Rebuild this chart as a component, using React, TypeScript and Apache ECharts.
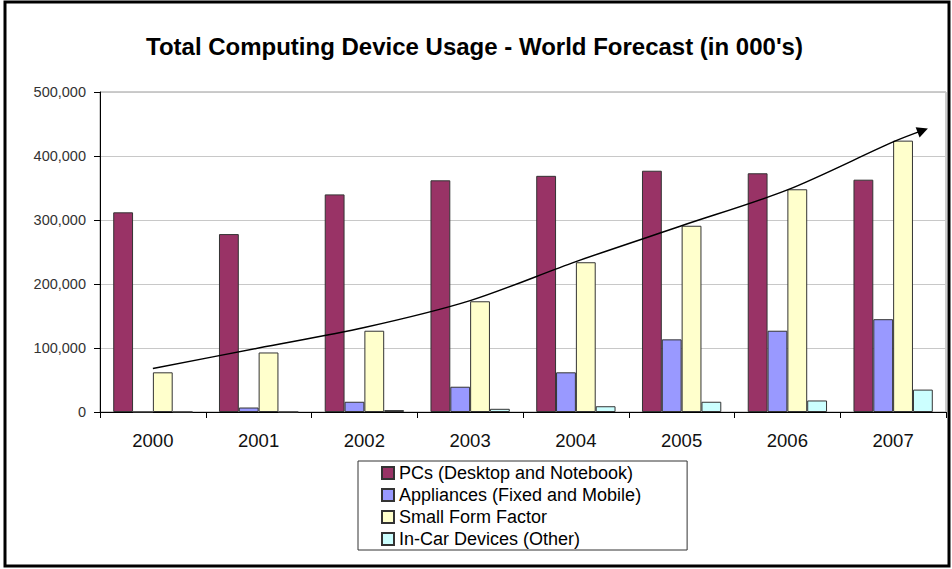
import React, { useEffect, useRef } from "react";
import * as echarts from "echarts";

const categories = ["2000", "2001", "2002", "2003", "2004", "2005", "2006", "2007"];
const pcs = [312000, 278000, 340000, 362000, 369000, 377000, 373000, 363000];
const appliances = [0, 7000, 16000, 39500, 62000, 113500, 127000, 145000];
const smallFormFactor = [62000, 93000, 127000, 173000, 234000, 291000, 348000, 424000];
const inCar = [0, 0, 3000, 5000, 9000, 16000, 18000, 35000];
// trend arrow: [category position, value]
const trendX = [0.5, 1.5, 2.5, 3.5, 4.5, 5.5, 6.5, 7.5, 7.78];
const trendY = [68000, 100000, 132000, 174000, 235000, 291000, 347000, 422000, 440000];

const seriesNames = [
  "PCs (Desktop and Notebook)",
  "Appliances (Fixed and Mobile)",
  "Small Form Factor",
  "In-Car Devices (Other)",
];
const colors = ["#993366", "#9999FF", "#FFFFCC", "#CCFFFF"];

export default function App() {
  const ref = useRef<HTMLDivElement>(null);
  useEffect(() => {
    if (!ref.current) return;
    const chart = echarts.init(ref.current, null, { renderer: "svg" });
    const font = "'Liberation Sans', Arial, sans-serif";
    const values = [pcs, appliances, smallFormFactor, inCar];
    const trendData: any[] = trendX.map((x, i) => {
      if (i === trendX.length - 1) {
        return {
          value: [x, trendY[i]],
          symbol: "triangle",
          symbolSize: [11, 11],
          symbolRotate: -69,
          itemStyle: { color: "#000" },
        };
      }
      return { value: [x, trendY[i]], symbol: "none" };
    });
    chart.setOption({
      animation: false,
      backgroundColor: "#fff",
      textStyle: { fontFamily: font },
      title: {
        text: "Total Computing Device Usage - World Forecast (in 000's)",
        left: 141,
        top: 29,
        textStyle: { fontSize: 24, fontWeight: "bold", color: "#000", fontFamily: font },
      },
      graphic: [
        {
          type: "rect",
          shape: { x: 5, y: 2, width: 944, height: 564 },
          style: { fill: "none", stroke: "#000", lineWidth: 3 },
          silent: true,
        },
      ],
      legend: {
        data: seriesNames,
        orient: "vertical",
        left: 358,
        top: 461,
        itemWidth: 12,
        itemHeight: 12,
        itemGap: 4,
        icon: "rect",
        padding: [3, 46, 2, 23],
        borderColor: "#333",
        borderWidth: 1,
        textStyle: { fontSize: 18, color: "#000", fontFamily: font },
      },
      grid: {
        left: 100,
        right: 6,
        top: 92,
        bottom: 157,
        show: true,
        borderColor: "#999",
        borderWidth: 1,
      },
      xAxis: [
        {
          type: "category",
          data: categories,
          axisLine: { lineStyle: { color: "#000", width: 1 } },
          axisTick: { show: true, length: 6, lineStyle: { color: "#000" } },
          axisLabel: { fontSize: 18.5, color: "#111", margin: 19, fontFamily: font },
        },
        {
          type: "value",
          min: 0,
          max: 8,
          show: false,
        },
      ],
      yAxis: {
        type: "value",
        min: 0,
        max: 500000,
        interval: 100000,
        axisLine: { show: true, lineStyle: { color: "#000" } },
        axisTick: { show: true, length: 6, lineStyle: { color: "#000" } },
        splitLine: { lineStyle: { color: "#c8c8c8" } },
        axisLabel: {
          fontSize: 14.5,
          color: "#333",
          margin: 14,
          fontFamily: font,
          formatter: (v: number) => v.toLocaleString("en-US"),
        },
      },
      series: [
        ...values.map((d, i) => ({
          name: seriesNames[i],
          type: "bar",
          data: d,
          barGap: "0%",
          barCategoryGap: "25%",
          itemStyle: { color: colors[i], borderColor: "#333", borderWidth: 1 },
        })),
        {
          type: "line",
          xAxisIndex: 1,
          data: trendData,
          smooth: 0.3,
          showSymbol: true,
          lineStyle: { color: "#000", width: 1.5 },
          z: 5,
          silent: true,
        },
      ],
    });
    return () => chart.dispose();
  }, []);
  return (
    <div
      ref={ref}
      style={{ position: "fixed", left: 0, top: 0, width: 952, height: 569 }}
    />
  );
}
